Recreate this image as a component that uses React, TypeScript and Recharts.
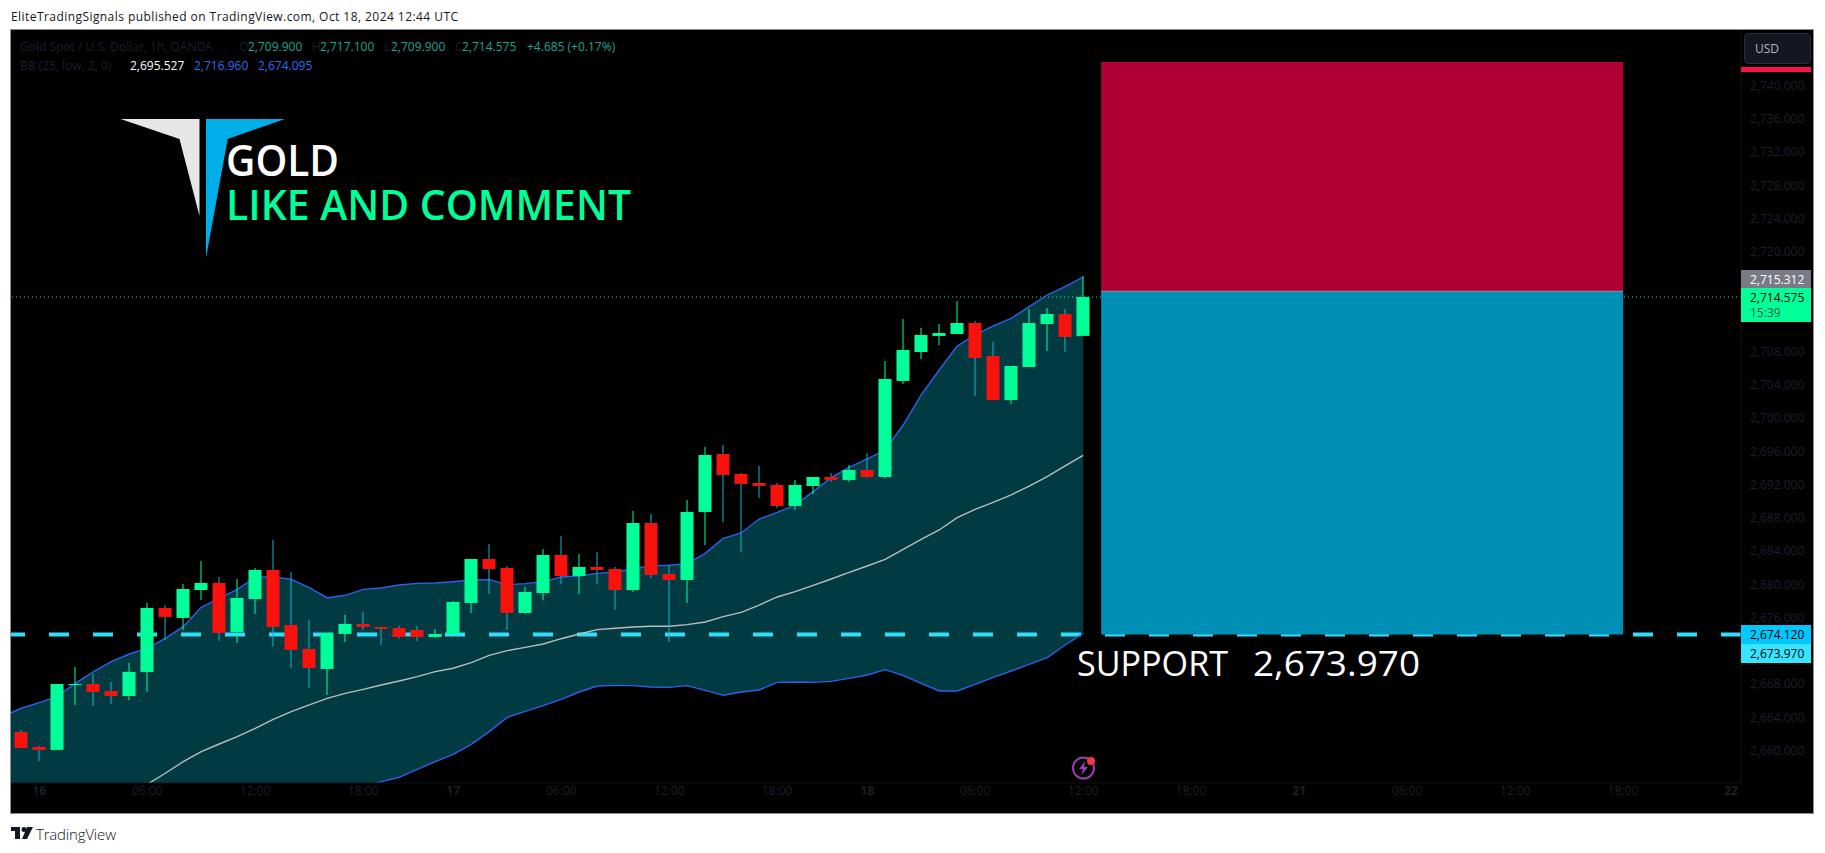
import React from 'react';
import { ComposedChart, Area, Bar, Line, XAxis, YAxis, ReferenceArea, ReferenceLine } from 'recharts';

// hourly candles, Oct 16 00:00 onwards (gold spot)
const opens = [2662.25, 2660.45, 2660.09, 2667.90, 2668.02, 2667.18, 2666.58, 2669.47, 2677.17, 2675.97, 2679.33, 2680.18, 2674.28, 2678.25, 2681.74, 2675.12, 2672.24, 2669.83, 2674.04, 2675.24, 2674.88, 2674.76, 2674.52, 2673.68, 2674.04, 2677.77, 2683.06, 2681.98, 2676.57, 2678.97, 2683.54, 2681.02, 2682.10, 2681.86, 2679.33, 2687.39, 2681.26, 2680.54, 2688.72, 2695.69, 2693.29, 2692.21, 2691.97, 2689.44, 2691.84, 2692.93, 2692.57, 2693.77, 2692.93, 2704.48, 2707.96, 2709.89, 2710.13, 2711.45, 2707.48, 2702.19, 2706.16, 2711.33, 2712.53, 2709.90];
const highs = [2662.49, 2660.57, 2668.02, 2670.07, 2669.23, 2668.27, 2670.55, 2677.77, 2677.53, 2680.05, 2682.82, 2680.90, 2680.66, 2681.98, 2685.35, 2681.50, 2675.72, 2674.16, 2676.33, 2676.69, 2674.88, 2675.00, 2675.00, 2674.64, 2678.01, 2683.06, 2684.87, 2682.22, 2679.69, 2684.26, 2685.83, 2683.66, 2683.90, 2682.10, 2688.84, 2688.48, 2682.34, 2690.16, 2696.54, 2696.78, 2693.41, 2694.25, 2692.21, 2692.57, 2692.93, 2693.41, 2694.37, 2695.81, 2706.88, 2711.93, 2710.85, 2711.33, 2714.10, 2711.69, 2709.17, 2706.28, 2713.14, 2713.26, 2713.14, 2717.10];
const lows = [2660.33, 2658.76, 2660.09, 2665.50, 2665.38, 2665.62, 2666.10, 2667.06, 2673.32, 2674.52, 2678.13, 2673.20, 2672.96, 2676.45, 2672.48, 2669.95, 2667.54, 2666.70, 2673.08, 2674.52, 2672.72, 2673.50, 2673.20, 2673.56, 2674.04, 2676.57, 2678.85, 2674.52, 2676.45, 2678.13, 2680.05, 2678.85, 2680.05, 2676.93, 2679.09, 2680.78, 2673.08, 2677.77, 2684.75, 2687.51, 2683.90, 2690.40, 2689.20, 2688.96, 2690.88, 2692.33, 2692.33, 2692.81, 2692.81, 2704.12, 2707.12, 2708.80, 2710.13, 2702.67, 2702.19, 2701.71, 2706.16, 2708.08, 2707.96, 2709.90];
const closes = [2660.33, 2660.09, 2668.02, 2668.02, 2667.06, 2666.58, 2669.47, 2677.17, 2676.09, 2679.45, 2680.18, 2674.16, 2678.37, 2681.74, 2674.88, 2672.12, 2669.95, 2674.16, 2675.24, 2674.88, 2674.64, 2673.68, 2673.68, 2674.04, 2677.89, 2683.06, 2681.86, 2676.57, 2679.09, 2683.54, 2681.02, 2682.10, 2681.74, 2679.33, 2687.39, 2681.14, 2680.54, 2688.72, 2695.57, 2693.17, 2692.09, 2691.85, 2689.44, 2691.97, 2692.93, 2692.57, 2693.77, 2692.93, 2704.72, 2708.20, 2710.01, 2710.25, 2711.45, 2707.24, 2702.19, 2706.28, 2711.45, 2712.53, 2709.77, 2714.575];

// Bollinger bands; first entry belongs to the bar before the first candle
const upperBand = [2664.13, 2665.10, 2665.78, 2666.50, 2668.10, 2669.47, 2670.71, 2671.63, 2672.31, 2673.52, 2674.92, 2677.25, 2678.33, 2679.41, 2680.85, 2680.93, 2680.61, 2679.61, 2678.37, 2678.69, 2679.41, 2679.57, 2679.93, 2680.13, 2680.17, 2680.33, 2680.53, 2680.57, 2679.97, 2680.09, 2680.33, 2680.89, 2681.01, 2681.33, 2681.49, 2681.86, 2682.26, 2682.30, 2682.50, 2683.74, 2685.54, 2686.19, 2687.87, 2688.67, 2689.55, 2691.16, 2692.84, 2694.09, 2695.09, 2696.17, 2699.18, 2702.79, 2705.80, 2708.68, 2710.01, 2711.09, 2712.01, 2713.42, 2714.82, 2715.82, 2716.96];
const middleBand = [null, null, null, null, null, null, null, 2654.27, 2655.95, 2657.28, 2658.68, 2659.88, 2660.80, 2661.69, 2662.69, 2663.77, 2664.70, 2665.50, 2666.30, 2666.90, 2667.38, 2667.90, 2668.38, 2668.90, 2669.51, 2669.91, 2670.59, 2671.47, 2672.03, 2672.43, 2672.83, 2673.47, 2674.04, 2674.56, 2674.72, 2674.88, 2674.96, 2674.96, 2675.16, 2675.48, 2676.12, 2676.64, 2677.52, 2678.49, 2679.13, 2679.89, 2680.65, 2681.46, 2682.22, 2683.02, 2684.22, 2685.43, 2686.55, 2688.03, 2689.04, 2689.88, 2690.76, 2691.84, 2692.96, 2694.25, 2695.527];
const lowerBand = [2632.0, 2633.0, 2634.0, 2635.0, 2636.0, 2636.5, 2636.8, 2636.91, 2639.59, 2641.04, 2642.44, 2642.51, 2643.27, 2643.97, 2644.53, 2646.61, 2648.79, 2651.39, 2654.23, 2655.11, 2655.67, 2656.27, 2656.80, 2657.76, 2658.68, 2659.56, 2660.76, 2662.29, 2664.01, 2664.73, 2665.41, 2666.18, 2667.06, 2667.78, 2667.86, 2667.82, 2667.66, 2667.62, 2667.82, 2667.26, 2666.66, 2667.06, 2667.30, 2668.22, 2668.26, 2668.22, 2668.34, 2668.70, 2669.10, 2669.75, 2669.02, 2668.10, 2667.18, 2667.18, 2667.98, 2668.82, 2669.58, 2670.39, 2671.19, 2672.71, 2674.095];

const timeTickBars = [1, 7, 13, 19, 24, 30, 36, 42, 47, 53, 59, 65, 71, 77, 83, 89, 95];
const timeTickLabels = ['16', '06:00', '12:00', '18:00', '17', '06:00', '12:00', '18:00', '18', '06:00', '12:00', '18:00', '21', '06:00', '12:00', '18:00', '22'];
const dayLabels = ['16', '17', '18', '21', '22'];
// 2672, 2712 and 2716 sit behind the price tags on the scale
const priceTicks = [2660, 2664, 2668, 2676, 2680, 2684, 2688, 2692, 2696, 2700, 2704, 2708, 2720, 2724, 2728, 2732, 2736, 2740];

const lastPrice = 2714.575;
const supportLevel = 2673.97;
const boxBars = [60, 89];
const boxPrices = [2742.85, 2715.27, 2673.97];

const UP = '#00FF99';
const DOWN = '#F7120E';
const DOWN_WICK = '#17B3C9';
const DIM = '#1B1F2A';
const FONT = '"Open Sans", sans-serif';

const tableRows = upperBand.map((upper, n) => {
  const i = n - 1;
  return {
    idx: i,
    band: [lowerBand[n], upper],
    upper,
    middle: middleBand[n],
    lower: lowerBand[n],
    open: i >= 0 ? opens[i] : null,
    close: i >= 0 ? closes[i] : null,
    high: i >= 0 ? highs[i] : null,
    low: i >= 0 ? lows[i] : null,
    range: i >= 0 ? [lows[i], highs[i]] : null,
  };
});

function Candle(props: any) {
  const { x, y, width, height, payload } = props;
  if (payload.high == null || !(height > 0)) return null;
  const k = height / (payload.high - payload.low);
  const yOf = (v: number) => y + (payload.high - v) * k;
  const up = payload.close >= payload.open;
  const cx = Math.round(x + width / 2);
  const top = yOf(Math.max(payload.open, payload.close));
  const bottom = yOf(Math.min(payload.open, payload.close));
  return (
    <g>
      <rect x={cx - 0.5} y={y} width={1} height={height} fill={up ? UP : DOWN_WICK} />
      <rect x={cx - 6.5} y={top} width={13} height={Math.max(bottom - top, 1)} fill={up ? UP : DOWN} />
    </g>
  );
}

function TimeTick(props: any) {
  const { x, y, payload } = props;
  const label = timeTickLabels[timeTickBars.indexOf(payload.value)];
  return (
    <text x={x} y={y + 4} textAnchor="middle" fontFamily={FONT} fontSize={12} fill={DIM} fontWeight={dayLabels.includes(label) ? 700 : 400}>
      {label}
    </text>
  );
}

const sideTags = [
  { y: 270, h: 18, fill: '#787B86', text: '2,715.312', color: '#FFFFFF' },
  { y: 288, h: 34, fill: '#00FF99', text: '2,714.575', color: '#000000' },
  { y: 625, h: 19, fill: '#00C8FF', text: '2,674.120', color: '#000000' },
  { y: 644, h: 19, fill: '#38E5FF', text: '2,673.970', color: '#000000' },
];

function Overlay() {
  const t = { fontFamily: FONT, fontSize: 12 };
  return (
    <svg width={1825} height={853} style={{ position: 'absolute', left: 0, top: 0, pointerEvents: 'none' }}>
      {/* legend rows */}
      <text {...t} x={20} y={51} fill={DIM}>Gold Spot / U.S. Dollar, 1h, OANDA</text>
      <text {...t} x={239} y={51} fill={DIM}>O</text>
      <text {...t} x={248} y={51} fill="#1FA58F">2,709.900</text>
      <text {...t} x={312} y={51} fill={DIM}>H</text>
      <text {...t} x={320} y={51} fill="#1FA58F">2,717.100</text>
      <text {...t} x={384} y={51} fill={DIM}>L</text>
      <text {...t} x={391} y={51} fill="#1FA58F">2,709.900</text>
      <text {...t} x={455} y={51} fill={DIM}>C</text>
      <text {...t} x={462} y={51} fill="#1FA58F">2,714.575</text>
      <text {...t} x={527} y={51} fill="#1FA58F">+4.685 (+0.17%)</text>
      <text {...t} x={20} y={70} fill={DIM}>BB (25, low, 2, 0)</text>
      <text {...t} x={130} y={70} fill="#FFFFFF">2,695.527</text>
      <text {...t} x={194} y={70} fill="#2F6BF0">2,716.960</text>
      <text {...t} x={258} y={70} fill="#2F6BF0">2,674.095</text>

      {/* logo and notes drawn on the chart */}
      <polygon points="120.5,119 199.5,119 199.5,216 179.5,139" fill="#E6E6E6" />
      <polygon points="206,119 285,119 227.7,139 206,258" fill="#00AEE8" />
      <text x={226} y={176} fontFamily={FONT} fontWeight={600} fontSize={43} fill="#FFFFFF" textLength={113} lengthAdjust="spacingAndGlyphs">GOLD</text>
      <text x={226} y={220} fontFamily={FONT} fontWeight={600} fontSize={41} fill="#00FF99" textLength={405} lengthAdjust="spacingAndGlyphs">LIKE AND COMMENT</text>
      <text x={1077} y={676} fontFamily={FONT} fontWeight={500} fontSize={35} fill="#FFFFFF" textLength={151} lengthAdjust="spacingAndGlyphs">SUPPORT</text>
      <text x={1253} y={676} fontFamily={FONT} fontWeight={500} fontSize={35} fill="#FFFFFF" textLength={167} lengthAdjust="spacingAndGlyphs">2,673.970</text>

      {/* flash icon */}
      <circle cx={1083.5} cy={768} r={10.5} fill="none" stroke="#9C3FB0" strokeWidth={2} />
      <polygon points="1085,761 1079,769 1083,769 1081.5,775 1088,767 1084,767" fill="#9C3FB0" />
      <circle cx={1091} cy={761} r={4} fill="#F23645" />

      {/* price scale tags */}
      <rect x={1744.5} y={33.5} width={66} height={30} rx={4} fill="#131722" stroke="#2A2E39" />
      <text {...t} x={1755} y={53} fill="#B2B5BE">USD</text>
      <rect x={1741} y={67} width={70} height={5} fill="#FF0F45" />
      {sideTags.map((tag) => (
        <g key={tag.text}>
          <rect x={1741} y={tag.y} width={70} height={tag.h} fill={tag.fill} />
          <text {...t} x={1750} y={tag.y + 14} fill={tag.color}>{tag.text}</text>
        </g>
      ))}
      <text {...t} x={1750} y={317} fill="#0B5E45">15:39</text>

      {/* page header and footer */}
      <text {...t} x={11} y={21} fill="#131722" textLength={447} lengthAdjust="spacing">EliteTradingSignals published on TradingView.com, Oct 18, 2024 12:44 UTC</text>
      <rect x={11} y={827} width={9} height={4} fill="#131722" />
      <rect x={15} y={827} width={5} height={12} fill="#131722" />
      <circle cx={24} cy={829.5} r={2.5} fill="#131722" />
      <polygon points="27,827 33,827 27,839 22,839" fill="#131722" />
      <text fontFamily={FONT} fontSize={15} fontWeight={300} x={36} y={840} fill="#131722" textLength={80} lengthAdjust="spacing">TradingView</text>
    </svg>
  );
}

export default function App() {
  return (
    <div style={{ position: 'absolute', left: 0, top: 0, width: 1825, height: 853, background: '#FFFFFF', overflow: 'hidden' }}>
      <div style={{ position: 'absolute', left: 11, top: 30, width: 1802, height: 783, background: '#000000', boxShadow: '0 0 0 1px #8E9099' }} />
      <div style={{ position: 'absolute', left: 0, top: 0 }}>
        <ComposedChart width={1813} height={813} data={tableRows} margin={{ top: 30, right: 0, bottom: 0, left: 11 }}>
          <XAxis
            dataKey="idx"
            type="number"
            domain={[-0.57, 95.55]}
            allowDataOverflow
            ticks={timeTickBars}
            interval={0}
            height={30}
            tick={<TimeTick />}
            tickLine={false}
            axisLine={{ stroke: '#111319' }}
          />
          <YAxis
            orientation="right"
            width={72}
            domain={[2656.11, 2746.7]}
            allowDataOverflow
            ticks={priceTicks}
            interval={0}
            tickSize={0}
            tickMargin={9}
            tickLine={false}
            axisLine={{ stroke: '#111319' }}
            tick={{ fill: DIM, fontFamily: FONT, fontSize: 12 }}
            tickFormatter={(v: number) => v.toLocaleString('en-US', { minimumFractionDigits: 3 })}
          />
          <ReferenceArea x1={boxBars[0]} x2={boxBars[1]} y1={boxPrices[1]} y2={boxPrices[0]} fill="#B10033" fillOpacity={1} stroke="none" />
          <ReferenceArea x1={boxBars[0]} x2={boxBars[1]} y1={boxPrices[2]} y2={boxPrices[1]} fill="#008FB5" fillOpacity={1} stroke="none" />
          <ReferenceLine segment={[{ x: boxBars[0], y: boxPrices[1] }, { x: boxBars[1], y: boxPrices[1] }]} stroke="#8A9AA0" strokeWidth={1} />
          <Area dataKey="band" type="linear" fill="#023A42" fillOpacity={1} stroke="none" isAnimationActive={false} dot={false} activeDot={false} zIndex={50} />
          <ReferenceLine y={supportLevel} stroke="#2EDFF9" strokeWidth={4} strokeDasharray="20 24" zIndex={60} />
          <ReferenceLine y={lastPrice} stroke="#00FF99" strokeWidth={1} strokeDasharray="1 3" zIndex={60} />
          <Line dataKey="upper" type="linear" stroke="#2A62E8" strokeWidth={1.4} dot={false} activeDot={false} isAnimationActive={false} zIndex={70} />
          <Line dataKey="lower" type="linear" stroke="#2A62E8" strokeWidth={1.4} dot={false} activeDot={false} isAnimationActive={false} zIndex={70} />
          <Line dataKey="middle" type="linear" stroke="#B8BEBE" strokeWidth={1.4} dot={false} activeDot={false} isAnimationActive={false} zIndex={70} />
          <Bar dataKey="range" barSize={13} shape={<Candle />} isAnimationActive={false} zIndex={90} />
        </ComposedChart>
      </div>
      <Overlay />
    </div>
  );
}
